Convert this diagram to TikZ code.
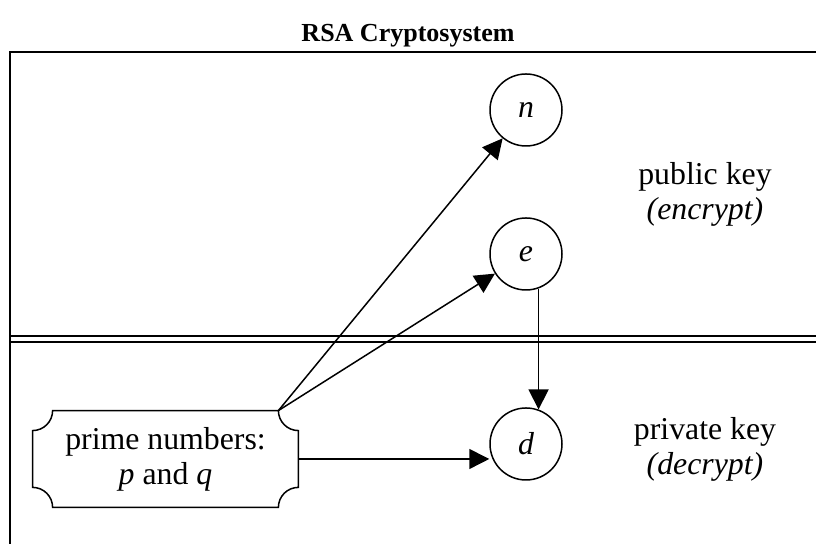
\documentclass[tikz,border=0pt]{standalone}
\usepackage{fontspec}
\setmainfont{Liberation Serif}
\usetikzlibrary{arrows.meta}

\begin{document}
\begin{tikzpicture}[x=0.5pt,y=0.5pt,
  var/.style={circle,draw,line width=0.75pt,minimum size=36pt,inner sep=0pt,font=\fontsize{15.9}{17.5}\selectfont\itshape},
  lbl/.style={align=center,font=\fontsize{15.9}{17.5}\selectfont},
  arr/.style={line width=0.75pt,-{Triangle[length=10pt,width=10pt]}}]
  \useasboundingbox (0,0) rectangle (816,544);
  \node[font=\fontsize{13}{15}\selectfont\bfseries] (title) at (408,508) {RSA Cryptosystem};
  % split between public and private part, then the frame
  \draw[line width=1pt,double,double distance=2pt] (10,205) -- (816,205);
  \draw[line width=1pt] (10,0) -- (10,492) -- (816,492);
  \node[var] (n) at (526,434) {n};
  \node[var] (e) at (526,290) {e};
  \node[var] (d) at (526,100) {d};
  \node[lbl] (pub) at (705,350) {public key\\\textit{(encrypt)}};
  \node[lbl] (priv) at (705,95) {private key\\\textit{(decrypt)}};
  \node[lbl,minimum width=132.5pt,minimum height=48pt] (pq) at (165.5,85) {prime numbers:\\\textit{p} and \textit{q}};
  % plaque outline with notched corners
  \draw[line width=0.75pt] ([xshift=10pt]pq.north west) -- ([xshift=-10pt]pq.north east) coordinate (pqcorner)
    arc[start angle=180,end angle=270,radius=10pt] -- ([yshift=10pt]pq.south east)
    arc[start angle=90,end angle=180,radius=10pt] -- ([xshift=10pt]pq.south west)
    arc[start angle=0,end angle=90,radius=10pt] -- ([yshift=-10pt]pq.north west)
    arc[start angle=270,end angle=360,radius=10pt] -- cycle;
  \draw[arr] (pqcorner) -- (n);
  \draw[arr] (pqcorner) -- (e);
  \draw[arr] (e.-70) -- (d.70);
  \draw[arr] (pq.east) -- (pq.east -| d.west);
\end{tikzpicture}
\end{document}
